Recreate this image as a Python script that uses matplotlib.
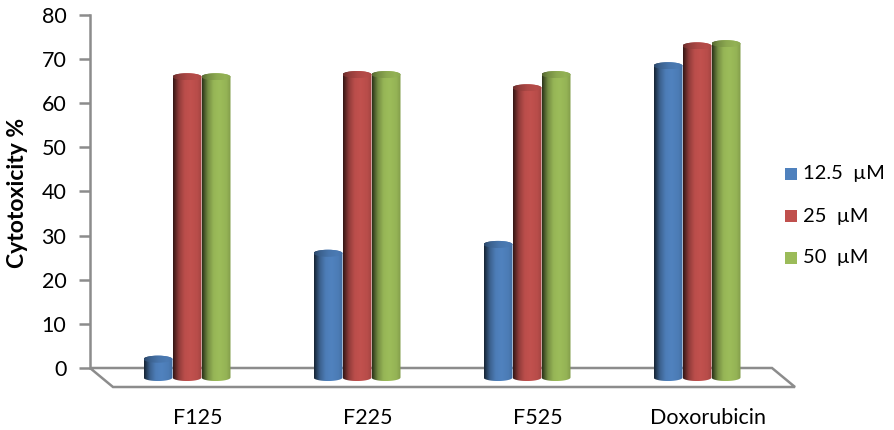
import numpy as np
import matplotlib
matplotlib.use("Agg")
import matplotlib.pyplot as plt
from matplotlib.path import Path
from matplotlib.patches import PathPatch, Polygon, Rectangle, Ellipse
from matplotlib.colors import to_rgb

plt.rcParams['font.family'] = ['Lato', 'DejaVu Sans']

# ---- data ----
categories = ["F125", "F225", "F525", "Doxorubicin"]
series_labels = ["12.5  \u00b5M", "25  \u00b5M", "50  \u00b5M"]
conc_12_5 = [2.0, 26.0, 28.0, 68.5]
conc_25 = [66.0, 66.5, 63.5, 73.0]
conc_50 = [66.0, 66.5, 66.5, 73.5]
series_values = [conc_12_5, conc_25, conc_50]
series_colors = ["#4f81bd", "#c0504d", "#9bbb59"]
y_ticks = [0, 10, 20, 30, 40, 50, 60, 70, 80]

# ---- figure geometry (pixels) ----
W, H = 894, 430
fig = plt.figure(figsize=(W / 100, H / 100), dpi=100)

px_per_unit_y = (368 - 15) / 80.0
px_per_cat = 170.0
ax_left_px, ax_right_px = 90, 800
ax_top_px, ax_bot_px = 10, 395
ax = fig.add_axes([ax_left_px / W, 1 - ax_bot_px / H,
                   (ax_right_px - ax_left_px) / W, (ax_bot_px - ax_top_px) / H])

x_left = (ax_left_px - 187) / px_per_cat
x_right = (ax_right_px - 187) / px_per_cat
y_top = (368 - ax_top_px) / px_per_unit_y
y_bot = -(ax_bot_px - 368) / px_per_unit_y

gray = "#8c8c8c"

# floor with depth offset
depth_dx = 23 / px_per_cat
depth_dy = 19 / px_per_unit_y
floor_len = 682 / px_per_cat
floor = Polygon([(x_left, 0), (x_left + floor_len, 0),
                 (x_left + floor_len + depth_dx, -depth_dy),
                 (x_left + depth_dx, -depth_dy)],
                closed=True, facecolor="white", edgecolor=gray, lw=1.8, zorder=1)
ax.add_patch(floor)

for s in ["top", "right", "bottom"]:
    ax.spines[s].set_visible(False)
ax.spines["left"].set_bounds(0, 80)
ax.spines["left"].set_color(gray)
ax.spines["left"].set_linewidth(1.8)
ax.set_yticks(y_ticks)
ax.set_yticklabels([str(t) for t in y_ticks])
ax.tick_params(axis="y", length=8, width=1.8, color=gray, labelsize=15.5, pad=9,
               labelcolor="black")

# category labels
group_x = np.arange(len(categories))
ax.set_xticks(group_x + 0.065)
ax.set_xticklabels(categories)
ax.tick_params(axis="x", length=0, labelsize=15.5, pad=9)

ax.set_ylabel("Cytotoxicity %", fontsize=16.5, fontweight="bold")
ax.yaxis.set_label_coords((28 - ax_left_px) / (ax_right_px - ax_left_px),
                          (ax_bot_px - 193) / (ax_bot_px - ax_top_px))

# ---- cylinders ----
bar_w = 29 / px_per_cat
cap_h = 0.8  # half-height of ellipse caps in data units
base = -9.5 / px_per_unit_y


def shade(color, profile):
    c = np.array(to_rgb(color))
    out = []
    for f in profile:
        if f <= 1:
            out.append(c * f)
        else:
            out.append(c + (1 - c) * (f - 1))
    return np.clip(np.array(out), 0, 1)


t = np.linspace(0, 1, 64)
body_profile = np.interp(t, [0, 0.06, 0.2, 0.4, 0.6, 0.85, 1.0],
                         [0.28, 0.42, 0.75, 0.97, 1.01, 0.96, 0.84])
cap_profile = np.interp(t, [0, 0.2, 0.5, 0.8, 1.0],
                        [0.55, 0.75, 0.9, 0.95, 0.9])

th_low = np.linspace(np.pi, 2 * np.pi, 40)
th_up = np.linspace(0, np.pi, 40)

for si, (vals, col) in enumerate(zip(series_values, series_colors)):
    for gi, v in enumerate(vals):
        cx = group_x[gi] + (si - 1) * bar_w
        a = bar_w / 2
        verts = [(cx - a, v)]
        verts += [(cx + a * np.cos(th), base + cap_h * np.sin(th)) for th in th_low]
        verts += [(cx + a, v)]
        verts += [(cx + a * np.cos(th), v + cap_h * np.sin(th)) for th in th_up]
        verts.append(verts[0])
        codes = [Path.MOVETO] + [Path.LINETO] * (len(verts) - 2) + [Path.CLOSEPOLY]
        outline = PathPatch(Path(verts, codes), facecolor="none", edgecolor="none",
                            zorder=2 + si)
        ax.add_patch(outline)
        img = shade(col, body_profile)[None, :, :]
        im = ax.imshow(img, extent=[cx - a, cx + a, base - cap_h, v + cap_h],
                       aspect="auto", interpolation="bilinear", zorder=2 + si)
        im.set_clip_path(outline)
        cap = Ellipse((cx, v), bar_w, 2 * cap_h, facecolor="none", edgecolor="none",
                      zorder=2.5 + si)
        ax.add_patch(cap)
        cap_img = shade(col, cap_profile)[None, :, :]
        im2 = ax.imshow(cap_img, extent=[cx - a, cx + a, v - cap_h, v + cap_h],
                        aspect="auto", interpolation="bilinear", zorder=2.5 + si)
        im2.set_clip_path(cap)

ax.set_xlim(x_left, x_right)
ax.set_ylim(y_bot, y_top)

# ---- legend ----
leg_y = [174, 216, 258]
for lbl, col, yc in zip(series_labels, series_colors, leg_y):
    fig.add_artist(Rectangle((785 / W, 1 - (yc + 6) / H), 12 / W, 12 / H,
                             transform=fig.transFigure, facecolor=col, edgecolor="none"))
    fig.text(803 / W, 1 - yc / H, lbl, fontsize=14.5, va="center", ha="left")

fig.savefig("out.png", dpi=100)
